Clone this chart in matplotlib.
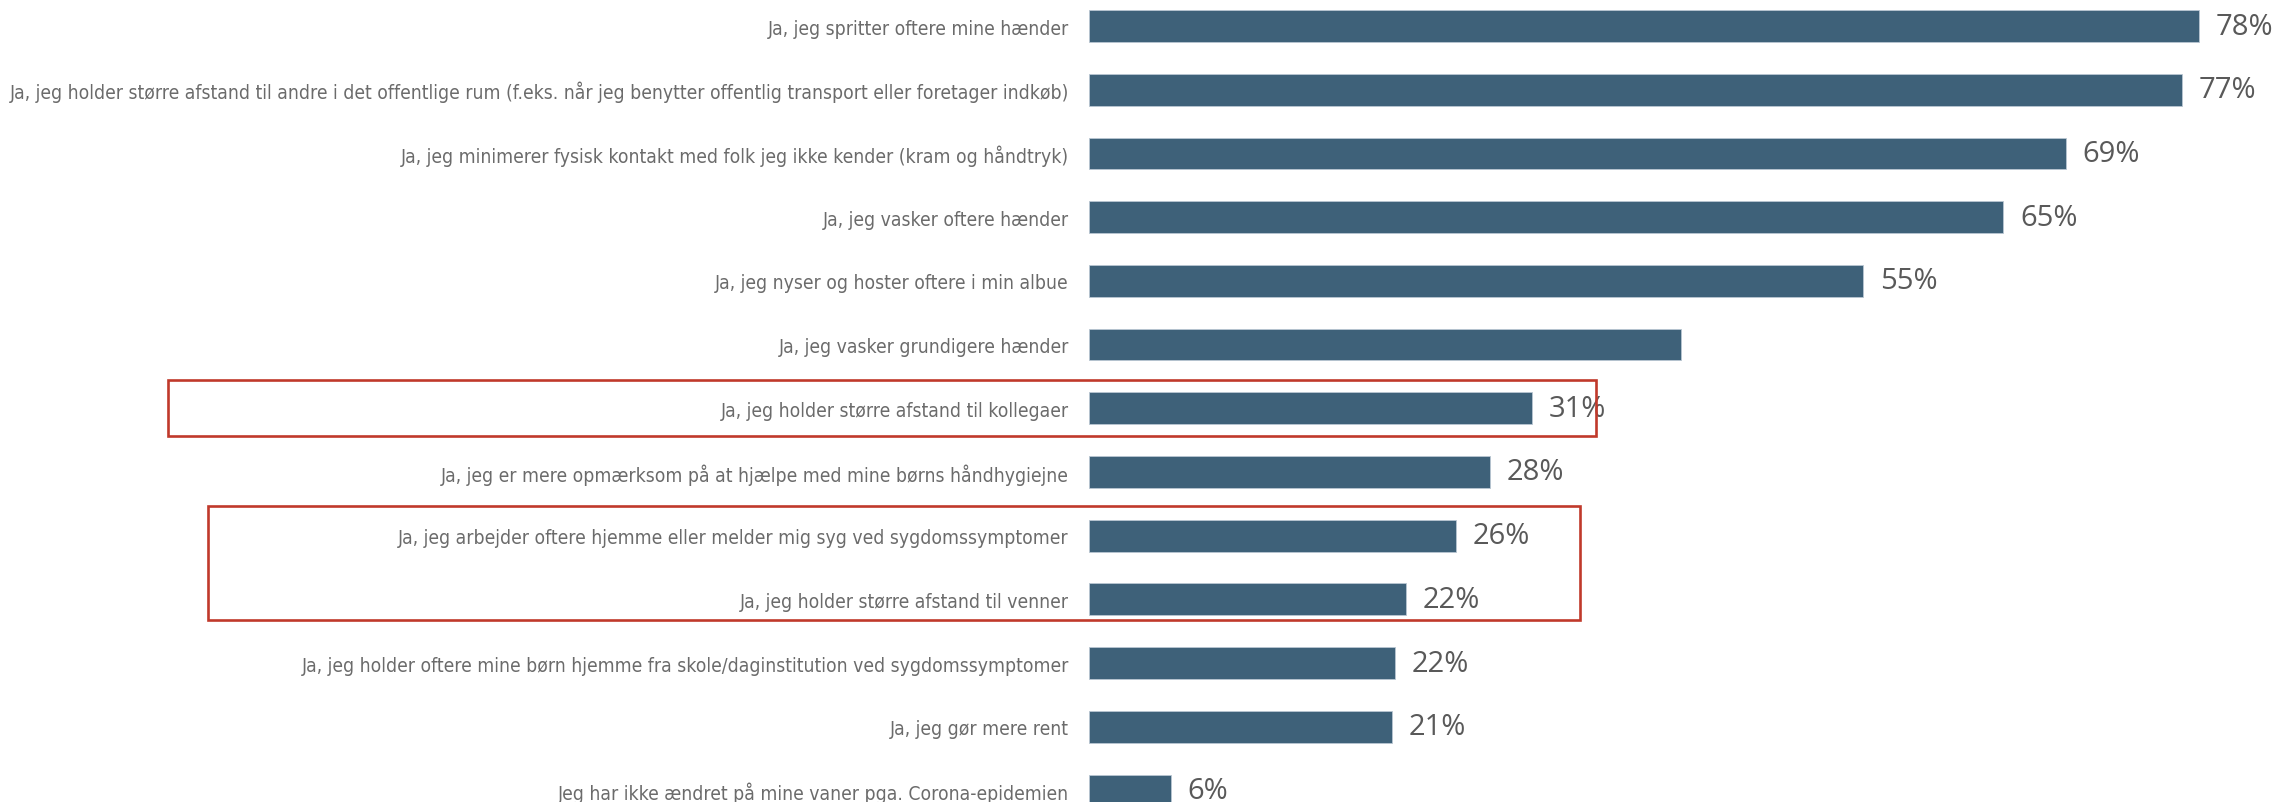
import matplotlib.pyplot as plt
from matplotlib.patches import Rectangle
from matplotlib.transforms import blended_transform_factory
from matplotlib import font_manager

# answers, top to bottom
categories = [
    "Ja, jeg spritter oftere mine hænder",
    "Ja, jeg holder større afstand til andre i det offentlige rum (f.eks. når jeg benytter offentlig transport eller foretager indkøb)",
    "Ja, jeg minimerer fysisk kontakt med folk jeg ikke kender (kram og håndtryk)",
    "Ja, jeg vasker oftere hænder",
    "Ja, jeg nyser og hoster oftere i min albue",
    "Ja, jeg vasker grundigere hænder",
    "Ja, jeg holder større afstand til kollegaer",
    "Ja, jeg er mere opmærksom på at hjælpe med mine børns håndhygiejne",
    "Ja, jeg arbejder oftere hjemme eller melder mig syg ved sygdomssymptomer",
    "Ja, jeg holder større afstand til venner",
    "Ja, jeg holder oftere mine børn hjemme fra skole/daginstitution ved sygdomssymptomer",
    "Ja, jeg gør mere rent",
    "Jeg har ikke ændret på mine vaner pga. Corona-epidemien",
]

# share of respondents (%)
values = [78.4, 77.2, 69.0, 64.6, 54.7, 41.8, 31.3, 28.3, 25.9, 22.4, 21.6, 21.4, 5.8]

# the reference leaves one bar without a value label
show_label = [True, True, True, True, True, False, True, True, True, True, True, True, True]

# highlighted groups of rows (first row, last row)
highlights = [(6, 6), (8, 9)]


def narrow_font():
    # pick a narrow sans if one is installed, otherwise Lato
    names = {f.name for f in font_manager.fontManager.ttflist}
    if "Liberation Sans Narrow" in names:
        return dict(family="Liberation Sans Narrow")
    for f in font_manager.fontManager.ttflist:
        if f.name == "DejaVu Sans" and "Condensed" in f.fname and "Bold" not in f.fname \
                and "Oblique" not in f.fname:
            return dict(family="DejaVu Sans", fontstretch="condensed")
    return dict(family="Lato")


W, H = 2275, 803
fig = plt.figure(figsize=(W / 100, H / 100), dpi=100)
fig.patch.set_facecolor("white")

ax = fig.add_axes([1089 / W, 0, 1 - 1089 / W, 1])
y = list(range(len(categories)))
ax.barh(y, values, height=0.5, color="#3e6179", edgecolor="#b9c6d2", linewidth=0.6)

ax.set_xlim(0, 83.8)
ax.set_ylim(12.18, -0.424)

ax.set_yticks(y)
labels = ax.set_yticklabels(categories, fontsize=15.5, color="#6b6b6b", **narrow_font())
ax.tick_params(axis="y", length=0, pad=14.5)
ax.set_xticks([])
for s in ax.spines.values():
    s.set_visible(False)

# shrink the category font if the longest label would not fit
fig.canvas.draw()
widest = max(t.get_window_extent().width for t in labels)
if widest > 1056:
    size = labels[0].get_fontsize() * 1056 / widest
    for t in labels:
        t.set_fontsize(size)

# value labels
for i, (v, show) in enumerate(zip(values, show_label)):
    if show:
        ax.annotate(f"{v:.0f}%", (v, i), xytext=(12, 0), textcoords="offset points",
                    va="center", ha="left", fontsize=21, color="#595959",
                    family=["Open Sans", "DejaVu Sans"])

# red frames around highlighted rows
# x in figure pixels, y in row units
trans = blended_transform_factory(fig.transFigure, ax.transData)
frames_x = [(168, 1596), (208, 1580)]
frames_pad = [(0.44, 0.44), (0.47, 0.33)]
for (r0, r1), (x0, x1), (pt, pb) in zip(highlights, frames_x, frames_pad):
    rect = Rectangle((x0 / W, r0 - pt), (x1 - x0) / W, (r1 - r0) + pt + pb,
                     transform=trans, fill=False, edgecolor="#c0392b",
                     linewidth=1.9, clip_on=False)
    fig.patches.append(rect)

fig.savefig("out.png", dpi=100, facecolor="white")
